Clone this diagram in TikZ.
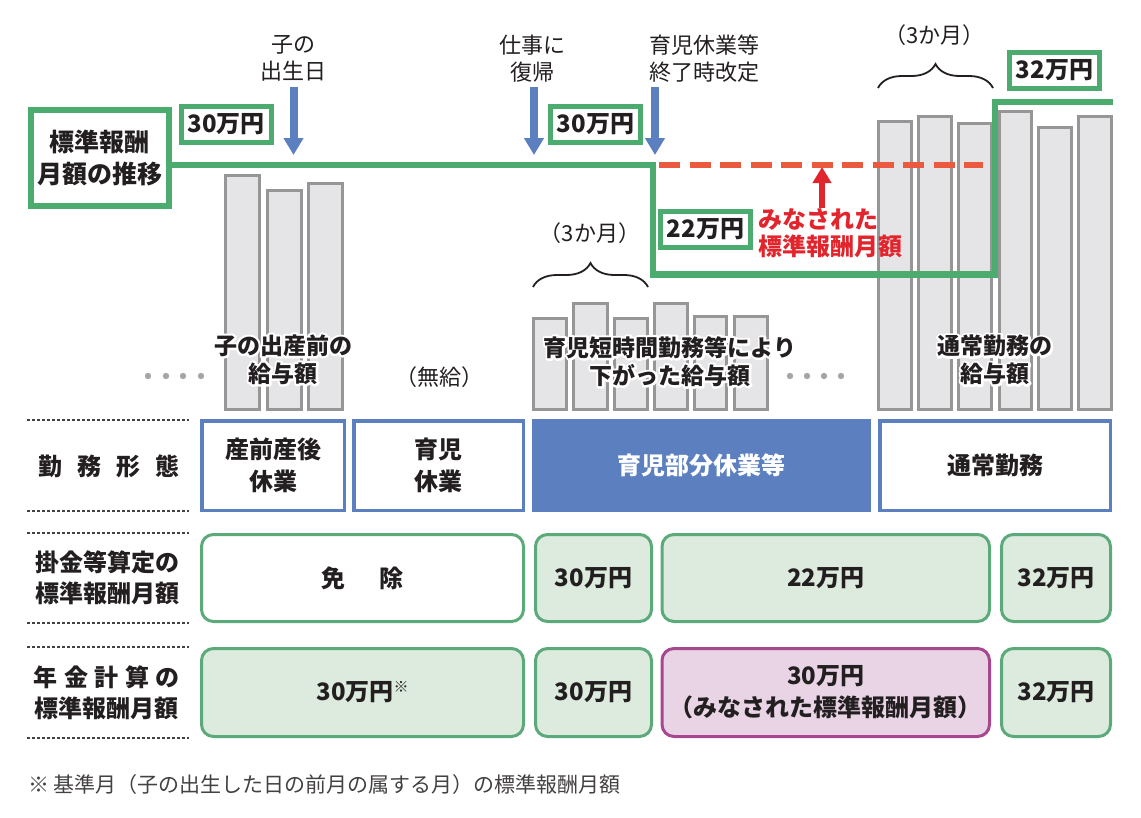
\documentclass[tikz,border=0pt]{standalone}
\usepackage{fontspec}
\setmainfont{Noto Sans CJK JP}
\usetikzlibrary{arrows.meta,decorations.pathreplacing,calc}
\definecolor{gline}{RGB}{76,172,112}
\definecolor{gfill}{RGB}{220,235,221}
\definecolor{gbord}{RGB}{92,170,122}
\definecolor{bblue}{RGB}{92,127,192}
\definecolor{rdash}{RGB}{233,90,62}
\definecolor{rred}{RGB}{226,36,44}
\definecolor{barfill}{RGB}{229,229,232}
\definecolor{barline}{RGB}{150,150,150}
\definecolor{pfill}{RGB}{232,212,229}
\definecolor{pbord}{RGB}{166,72,143}
\definecolor{txt}{RGB}{35,31,32}
\definecolor{dotg}{RGB}{165,165,165}
\newcommand\halonode[3]{%
  \node[barlbl,text=white] at (#1) {\special{pdf:literal direct q 1 1 1 RG 1 Tr 4.5 w 1 j 1 J}#3\special{pdf:literal direct Q}};
  \node[barlbl] (#2) at (#1) {#3};}
\begin{document}
\begin{tikzpicture}[x=1pt,y=-1pt,
  every node/.style={text=txt, inner sep=0pt},
  bf/.style={font=\fontsize{24}{32}\selectfont\bfseries, align=center},
  toplbl/.style={font=\fontsize{22}{27}\selectfont, align=center},
  barlbl/.style={font=\fontsize{23}{28}\selectfont\bfseries, align=center},
  mainbox/.style={draw=gline, line width=6.5pt, fill=white, font=\fontsize{25}{32}\selectfont\bfseries, align=center},
  gbox/.style={draw=gline, line width=5pt, fill=white, bf, minimum width=90pt, minimum height=36pt},
  bar/.style={draw=barline, line width=3pt, fill=barfill},
  barrow/.style={draw=bblue, line width=8pt, -{Triangle[length=17pt,width=19pt]}},
  rarrow/.style={draw=rred, line width=6pt, -{Triangle[length=16pt,width=18pt]}},
  stepline/.style={draw=gline, line width=6.5pt},
  reddash/.style={draw=rdash, line width=6.5pt, dash pattern=on 21pt off 9.5pt},
  bracestyle/.style={draw=txt, line width=1.8pt, decorate, decoration={brace, amplitude=24pt}},
  dotl/.style={draw=txt!85, line width=1.6pt, dash pattern=on 3pt off 2pt},
  bluebox/.style={draw=bblue, line width=3.5pt, fill=white, bf, minimum height=89.5pt},
  bluefill/.style={draw=bblue, line width=3.5pt, fill=bblue, bf, text=white, minimum height=89.5pt},
  rbox/.style={draw=gbord, line width=3pt, fill=gfill, rounded corners=12pt, bf},
  rwbox/.style={rbox, fill=white},
  pbox/.style={draw=pbord, line width=3pt, fill=pfill, rounded corners=12pt, bf},
  rowlbl/.style={bf, font=\fontsize{24}{31}\selectfont\bfseries},
  gdot/.style={fill=dotg}
]
\fill[white] (0,0) rectangle (1141,817);
\useasboundingbox (0,0) rectangle (1141,817);

% bars
\foreach \l/\t/\r in {224/174/261, 266/189/303, 307/182/344,
  532/317/568, 572/302/609, 613/317/649, 653/302/689, 693/315/728, 733/315/769,
  877/120/913, 917/115/953, 957/122/993, 998/110/1033, 1037/126/1073, 1077/115/1113}
  \draw[bar] (\l+1.5,\t+1.5) rectangle (\r-1.5,409.5);

% dots
\foreach \x in {148,166,183,201,790,807,824,841}
  \fill[gdot] (\x,376) circle (3.2pt);

% main box and step line
\node[mainbox, minimum width=138pt, minimum height=96pt] (main) at (100,158) {標準報酬\\月額の推移};
\coordinate (y165) at (0,165);
\draw[stepline] (main.east |- y165) -- (653,165) -- (653,274.5) -- (995,274.5) -- (995,102) -- (1113,102);
\draw[reddash] (659,165) -- (983,165);

% value boxes
\node[gbox] (v30a) at (226,124.5) {30万円};
\node[gbox] (v30b) at (595.5,124.5) {30万円};
\node[gbox] (v22) at (705.5,229) {22万円};
\node[gbox] (v32) at (1054.5,70.5) {32万円};

% red text and arrow
\node[font=\fontsize{24}{27}\selectfont\bfseries, text=rred, align=left, anchor=west] (rtext) at (758,233) {みなされた\\標準報酬月額};
\coordinate (rtip) at (822,167);
\draw[rarrow] (rtext.north -| rtip) -- (rtip);

% top labels and blue arrows
\coordinate (y87) at (0,87);
\node[toplbl] (lA) at (293.5,58.5) {子の\\出生日};
\node[toplbl] (lB) at (532,58.5) {仕事に\\復帰};
\node[toplbl] (lC) at (704.5,58.5) {育児休業等\\終了時改定};
\coordinate (tA) at (293.5,155);
\coordinate (tB) at (534,155);
\coordinate (tC) at (655,155);
\draw[barrow] (lA.south |- y87) -- (tA);
\draw[barrow] (tB |- y87) -- (tB);
\draw[barrow] (tC |- y87) -- (tC);

% braces
\node[toplbl] (m3a) at (590,233) {（3か月）};
\node[toplbl] (m3b) at (934.5,35) {（3か月）};
\draw[bracestyle] (533,287) -- (648,287);
\draw[bracestyle] (878,88) -- (993,88);

% bar labels
\halonode{283,359.5}{blA}{子の出産前の\\給与額}
\node[toplbl] (blB) at (439,377) {（無給）};
\halonode{670,361.5}{blC}{育児短時間勤務等により\\下がった給与額}
\halonode{995,360}{blD}{通常勤務の\\給与額}

% dotted row lines
\foreach \y in {420,511,533,623,647,738}
  \draw[dotl] (27,\y) -- (189,\y);

% row labels
\node[rowlbl] (rl1) at (109,466) {勤\hspace{15pt}務\hspace{15pt}形\hspace{15pt}態};
\node[rowlbl] (rl2) at (107,578) {掛金等算定の\\標準報酬月額};
\node[rowlbl] (rl3) at (107,692.5) {年\hspace{6.5pt}金\hspace{6.5pt}計\hspace{6.5pt}算\hspace{6.5pt}の\\標準報酬月額};

% row 1
\node[bluebox, minimum width=142.5pt] (w1) at (273,465.5) {産前産後\\休業};
\node[bluebox, minimum width=169.5pt] (w2) at (438.5,465.5) {育児\\休業};
\node[bluefill, minimum width=335pt] (w3) at (701.25,465.5) {育児部分休業等};
\node[bluebox, minimum width=230.5pt] (w4) at (995,465.5) {通常勤務};

% row 2
\node[rwbox, minimum width=322pt, minimum height=87pt] (k1) at (362.5,578) {免\hspace{34pt}除};
\node[rbox, minimum width=116pt, minimum height=87pt] (k2) at (593.5,578) {30万円};
\node[rbox, minimum width=327.5pt, minimum height=87pt] (k3) at (825.75,578) {22万円};
\node[rbox, minimum width=109pt, minimum height=87pt] (k4) at (1056,578) {32万円};

% row 3
\node[rbox, minimum width=322pt, minimum height=88pt] (n1) at (362.5,692.5) {30万円\raisebox{8pt}{\fontsize{15}{15}\selectfont ※}};
\node[rbox, minimum width=116pt, minimum height=88pt] (n2) at (593.5,692.5) {30万円};
\node[pbox, minimum width=327.5pt, minimum height=88pt] (n3) at (825.75,692.5) {30万円\\（みなされた標準報酬月額）};
\node[rbox, minimum width=109pt, minimum height=88pt] (n4) at (1056,692.5) {32万円};

% footnote
\node[anchor=west, font=\fontsize{21}{24}\selectfont, text=txt!85] (fn) at (28,785) {※ 基準月（子の出生した日の前月の属する月）の標準報酬月額};
\end{tikzpicture}
\end{document}
